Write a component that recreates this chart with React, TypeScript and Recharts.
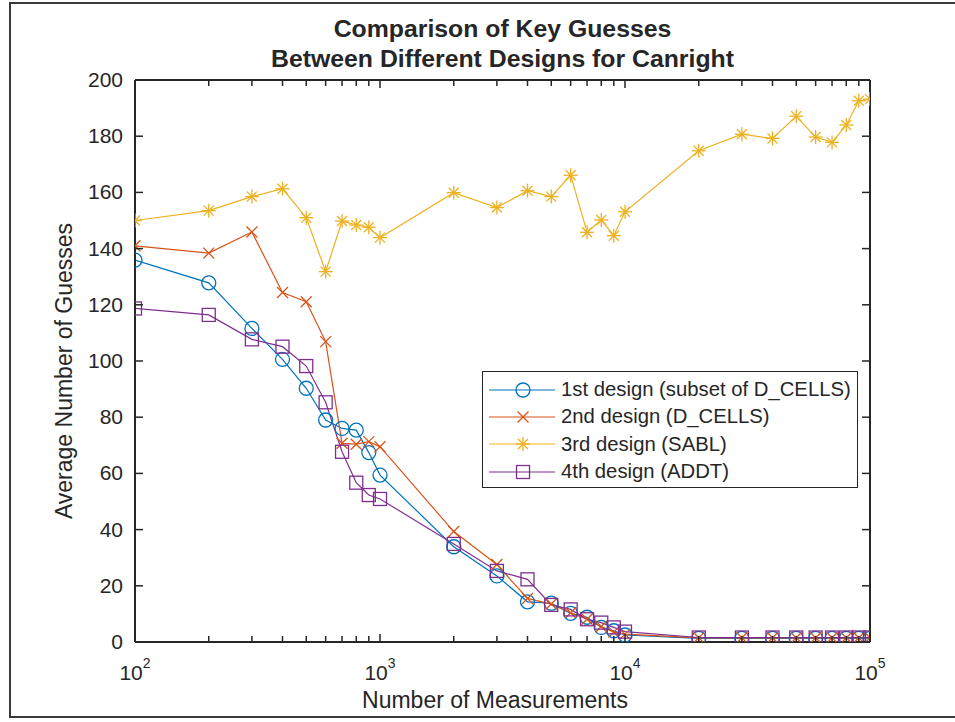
import { LineChart, Line, XAxis, YAxis, Legend } from "recharts";

// number of power traces used per attack
const measurements = [
  100, 200, 300, 400, 500, 600, 700, 800, 900, 1000, 2000, 3000, 4000, 5000, 6000, 7000, 8000, 9000, 10000,
  20000, 30000, 40000, 50000, 60000, 70000, 80000, 90000, 100000,
];

const design1 = [
  135.9, 127.8, 111.6, 100.6, 90.3, 79, 76, 75.4, 67.4, 59.4, 33.9, 23.5, 14.3, 13.8, 10.2, 8.8, 5.2, 4, 2.5,
  1.3, 1.3, 1.3, 1.3, 1.3, 1.3, 1.3, 1.3, 1.3,
];
const design2 = [
  141, 138.4, 145.9, 124.4, 121.1, 106.9, 70.7, 70.4, 71.3, 69.5, 39.3, 27.6, 15.5, 13.5, 10.4, 8.1, 5.5, 3.5, 2.8,
  1.5, 1.5, 1.5, 1.5, 1.5, 1.5, 1.5, 1.5, 1.5,
];
const design3 = [
  150, 153.5, 158.5, 161.3, 151, 131.8, 149.8, 148.4, 147.6, 143.9, 159.9, 154.6, 160.6, 158.5, 166.1, 145.8, 150.2,
  144.6, 153.1, 174.8, 180.7, 179.2, 187.1, 179.7, 177.8, 184, 192.6, 193.2,
];
const design4 = [
  118.7, 116.4, 107.7, 105.1, 98.2, 85.3, 67.7, 56.7, 52.3, 50.9, 34.9, 25.3, 22.3, 13.2, 11.6, 8.1, 6.9, 5.2, 3.7,
  1.6, 1.6, 1.6, 1.6, 1.6, 1.6, 1.6, 1.6, 1.6,
];

const xTicks = [
  100, 200, 300, 400, 500, 600, 700, 800, 900, 1000, 2000, 3000, 4000, 5000, 6000, 7000, 8000, 9000, 10000,
  20000, 30000, 40000, 50000, 60000, 70000, 80000, 90000, 100000,
];
const xMajor: Record<number, string> = { 100: "2", 1000: "3", 10000: "4", 100000: "5" };
const yTicks = [0, 20, 40, 60, 80, 100, 120, 140, 160, 180, 200];

const data = measurements.map((m, i) => ({
  m,
  d1: design1[i],
  d2: design2[i],
  d3: design3[i],
  d4: design4[i],
}));

const FONT = '"Liberation Sans", Arial, sans-serif';
const INK = "#262626";
const BLUE = "#0072BD";
const ORANGE = "#D95319";
const YELLOW = "#EDB120";
const PURPLE = "#7E2F8E";

// MATLAB-style markers
function Marker({ kind, cx, cy, color }: { kind: string; cx: number; cy: number; color: string }) {
  if (kind === "o") return <circle cx={cx} cy={cy} r={7} fill="none" stroke={color} strokeWidth={1.3} />;
  if (kind === "s")
    return <rect x={cx - 6.5} y={cy - 6.5} width={13} height={13} fill="none" stroke={color} strokeWidth={1.3} />;
  if (kind === "x")
    return (
      <g stroke={color} strokeWidth={1.3}>
        <line x1={cx - 5.5} y1={cy - 5.5} x2={cx + 5.5} y2={cy + 5.5} />
        <line x1={cx - 5.5} y1={cy + 5.5} x2={cx + 5.5} y2={cy - 5.5} />
      </g>
    );
  return (
    <g stroke={color} strokeWidth={1.3}>
      <line x1={cx - 7} y1={cy} x2={cx + 7} y2={cy} />
      <line x1={cx} y1={cy - 7} x2={cx} y2={cy + 7} />
      <line x1={cx - 5} y1={cy - 5} x2={cx + 5} y2={cy + 5} />
      <line x1={cx - 5} y1={cy + 5} x2={cx + 5} y2={cy - 5} />
    </g>
  );
}

const markerOf: Record<string, { kind: string; color: string }> = {
  d1: { kind: "o", color: BLUE },
  d2: { kind: "x", color: ORANGE },
  d3: { kind: "*", color: YELLOW },
  d4: { kind: "s", color: PURPLE },
};

const dotFor = (key: string) => (p: any) => (
  <Marker key={`${key}-${p.index}`} kind={markerOf[key].kind} cx={p.cx} cy={p.cy} color={markerOf[key].color} />
);

function BottomTick({ x, y, payload }: any) {
  const exp = xMajor[payload.value];
  return (
    <g>
      <line x1={x} x2={x} y1={y} y2={y - (exp ? 8 : 6)} stroke={INK} strokeWidth={1.5} />
      {exp && (
        <text x={x} y={y + 38} textAnchor="middle" fontSize={21} fill={INK} fontFamily={FONT}>
          10
          <tspan dy={-12} fontSize={14}>
            {exp}
          </tspan>
        </text>
      )}
    </g>
  );
}

function TopTick({ x, y, payload }: any) {
  const len = xMajor[payload.value] ? 8 : 6;
  return <line x1={x} x2={x} y1={y} y2={y + len} stroke={INK} strokeWidth={1.5} />;
}

function LeftTick({ x, y, payload }: any) {
  return (
    <g>
      <line x1={x} x2={x + 8} y1={y} y2={y} stroke={INK} strokeWidth={1.5} />
      <text x={x - 12} y={y + 7} textAnchor="end" fontSize={21} fill={INK} fontFamily={FONT}>
        {payload.value}
      </text>
    </g>
  );
}

function RightTick({ x, y }: any) {
  return <line x1={x} x2={x - 8} y1={y} y2={y} stroke={INK} strokeWidth={1.5} />;
}

function LegendBox({ payload }: any) {
  return (
    <div
      style={{
        width: 376,
        height: 117,
        boxSizing: "border-box",
        border: `1px solid ${INK}`,
        background: "#fff",
        padding: "4px 0 0 6px",
        fontFamily: FONT,
      }}
    >
      {(payload || []).map((entry: any) => {
        const mk = markerOf[entry.dataKey];
        return (
          <div key={entry.dataKey} style={{ display: "flex", alignItems: "center", height: 27.3 }}>
            <svg width={66} height={20} style={{ flex: "none" }}>
              <line x1={0} x2={66} y1={10} y2={10} stroke={mk.color} strokeWidth={1.2} />
              <Marker kind={mk.kind} cx={34} cy={10} color={mk.color} />
            </svg>
            <span style={{ marginLeft: 6, fontSize: 20.3, color: INK, whiteSpace: "nowrap" }}>{entry.value}</span>
          </div>
        );
      })}
    </div>
  );
}

const axisLine = { stroke: INK, strokeWidth: 2 };

export default function App() {
  return (
    <div
      style={{
        position: "absolute",
        left: 0,
        top: 0,
        width: 955,
        height: 722,
        overflow: "hidden",
        background: "#fff",
        fontFamily: FONT,
        color: INK,
      }}
    >
      <div
        style={{
          position: "absolute",
          left: 9,
          top: 2,
          width: 980,
          height: 716,
          boxSizing: "border-box",
          border: "2px solid #3a3a3a",
        }}
      />
      <div
        style={{
          position: "absolute",
          left: 0,
          width: 1005,
          top: 14,
          textAlign: "center",
          fontWeight: "bold",
          fontSize: 24.8,
          lineHeight: "30px",
        }}
      >
        <div>Comparison of Key Guesses</div>
        <div>Between Different Designs for Canright</div>
      </div>
      <div
        style={{
          position: "absolute",
          left: 0,
          width: 990,
          top: 686,
          textAlign: "center",
          fontSize: 23,
          lineHeight: "28px",
        }}
      >
        Number of Measurements
      </div>
      <div
        style={{
          position: "absolute",
          left: 64 - 200,
          top: 371 - 14,
          width: 400,
          textAlign: "center",
          fontSize: 23,
          lineHeight: "28px",
          transform: "rotate(-90deg)",
        }}
      >
        Average Number of Guesses
      </div>
      <div style={{ position: "absolute", left: 0, top: 0 }}>
        <LineChart width={955} height={722} data={data} margin={{ top: 79, right: 84, bottom: 30, left: 85 }}>
          <XAxis
            dataKey="m"
            type="number"
            scale="log"
            domain={[100, 100000]}
            allowDataOverflow
            ticks={xTicks}
            interval={0}
            height={50}
            tickSize={0}
            tickMargin={0}
            tickLine={false}
            axisLine={axisLine}
            tick={<BottomTick />}
          />
          <XAxis
            xAxisId="top"
            orientation="top"
            dataKey="m"
            type="number"
            scale="log"
            domain={[100, 100000]}
            allowDataOverflow
            ticks={xTicks}
            interval={0}
            height={1}
            tickSize={0}
            tickMargin={0}
            tickLine={false}
            axisLine={axisLine}
            tick={<TopTick />}
          />
          <YAxis
            type="number"
            domain={[0, 200]}
            allowDataOverflow
            ticks={yTicks}
            interval={0}
            width={50}
            tickSize={0}
            tickMargin={0}
            tickLine={false}
            axisLine={axisLine}
            tick={<LeftTick />}
          />
          <YAxis
            yAxisId="right"
            orientation="right"
            type="number"
            domain={[0, 200]}
            allowDataOverflow
            ticks={yTicks}
            interval={0}
            width={1}
            tickSize={0}
            tickMargin={0}
            tickLine={false}
            axisLine={axisLine}
            tick={<RightTick />}
          />
          <Line
            dataKey="d1"
            name="1st design (subset of D_CELLS)"
            stroke={BLUE}
            strokeWidth={1.2}
            dot={dotFor("d1")}
            activeDot={false}
            isAnimationActive={false}
          />
          <Line
            dataKey="d2"
            name="2nd design (D_CELLS)"
            stroke={ORANGE}
            strokeWidth={1.2}
            dot={dotFor("d2")}
            activeDot={false}
            isAnimationActive={false}
          />
          {/* same domains on both axis pairs, so this series also keeps the top/right box edges drawn */}
          <Line
            xAxisId="top"
            yAxisId="right"
            dataKey="d3"
            name="3rd design (SABL)"
            stroke={YELLOW}
            strokeWidth={1.2}
            dot={dotFor("d3")}
            activeDot={false}
            isAnimationActive={false}
          />
          <Line
            dataKey="d4"
            name="4th design (ADDT)"
            stroke={PURPLE}
            strokeWidth={1.2}
            dot={dotFor("d4")}
            activeDot={false}
            isAnimationActive={false}
          />
          <Legend
            layout="horizontal"
            verticalAlign="middle"
            align="center"
            content={<LegendBox />}
            wrapperStyle={{ position: "absolute", left: 482, top: 371, width: 376, height: 117 }}
          />
        </LineChart>
      </div>
    </div>
  );
}
